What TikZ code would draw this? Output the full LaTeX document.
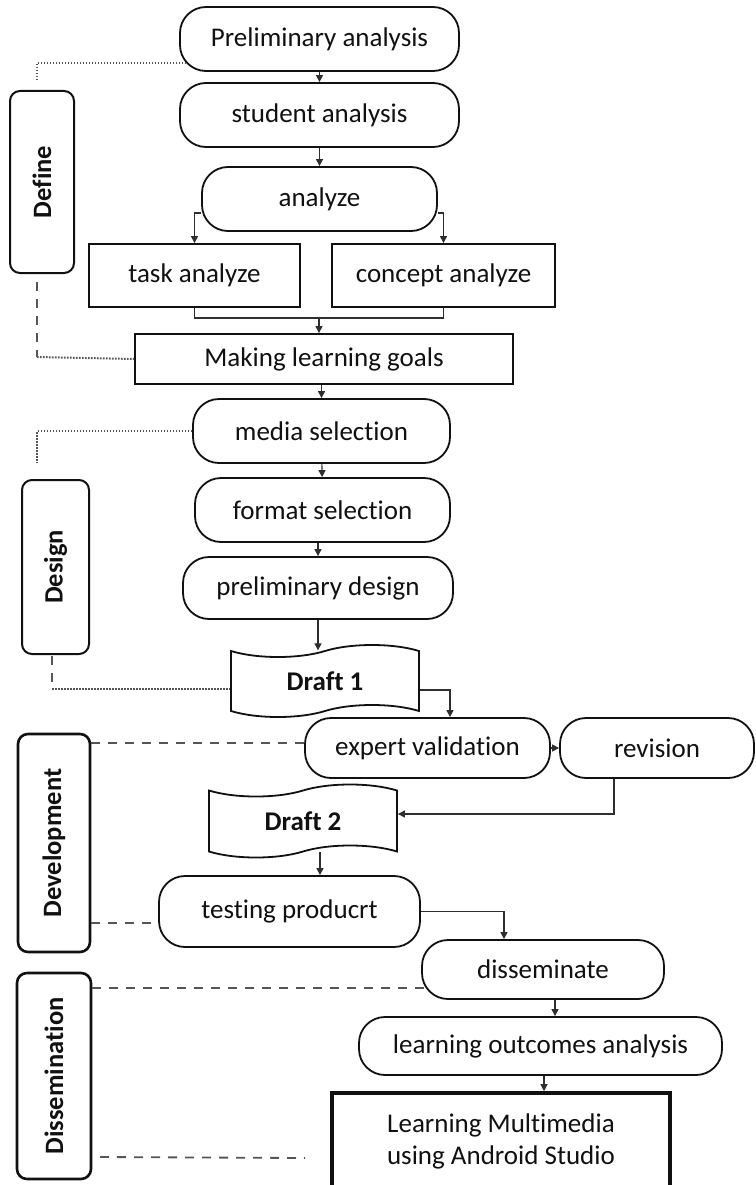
\documentclass[tikz,border=0pt]{standalone}
\usepackage{fontspec}
\setmainfont{Carlito}[Ligatures=NoCommon]
\usepackage{graphicx}
\usepackage{tikz}
\usetikzlibrary{arrows.meta, positioning, calc, shapes.symbols}
\definecolor{ink}{HTML}{111111}
\definecolor{wire}{HTML}{2E2E2E}
\definecolor{guide}{HTML}{555555}
\tikzset{
  font=\fontsize{27}{32}\selectfont,
  >={Triangle[length=7pt, width=7pt]},
  %
  stepbox/.style={
    draw=ink, line width=1.8pt, rounded corners=26pt, fill=white,
    inner sep=0pt, align=center, text=ink,
  },
  taskbox/.style={draw=ink, line width=1.8pt, fill=white, inner sep=0pt,
                  align=center, text=ink},
  finalbox/.style={taskbox, line width=3.6pt},
  draftbox/.style={tape, draw=ink, line width=1.8pt, fill=white,
                   tape bend height=12pt, inner sep=0pt, text=ink,
                   font=\fontsize{27}{32}\selectfont\bfseries},
  phasebox/.style={draw=ink, line width=2pt, rounded corners=10pt,
                   inner sep=0pt, text=ink,
                   font=\fontsize{26.5}{30}\selectfont\bfseries},
  %
  flow/.style={draw=wire, line width=1.1pt, ->},
  flowjoin/.style={draw=wire, line width=1.1pt},
  linkdot/.style={draw=guide, line width=2pt, dash pattern=on 1.6pt off 1.4pt},
  linkdash/.style={draw=guide, line width=1.8pt, dash pattern=on 9pt off 8pt},
}

\begin{document}
\begin{tikzpicture}[x=1pt, y=-1pt]

  \useasboundingbox (0,0) rectangle (755,1185);

  % phase boxes
  \node[phasebox, minimum width=64pt, minimum height=182pt] (define) at (42,182)
    {\rotatebox{90}{Define}};
  \node[phasebox, minimum width=67pt, minimum height=174pt] (design) at (55.5,567)
    {\rotatebox{90}{Design}};
  \node[phasebox, line width=2.6pt, minimum width=72pt, minimum height=218pt]
    (develop) at (54,843) {\rotatebox{90}{Development}};
  \node[phasebox, line width=2.6pt, minimum width=74pt, minimum height=206pt]
    (dissem) at (54,1076) {\rotatebox{90}{Dissemination}};

  % define steps
  \node[stepbox, minimum width=279pt, minimum height=64pt] (prelim) at (319.5,39)
    {Preliminary analysis};
  \node[stepbox, minimum width=279pt, minimum height=64pt] (student) at (319.5,115)
    {student analysis};
  \node[stepbox, minimum width=235pt, minimum height=64pt] (analyze) at (319.5,199)
    {analyze};
  \node[taskbox, minimum width=211pt, minimum height=63pt] (task) at (194.5,275.5)
    {task analyze};
  \node[taskbox, minimum width=223pt, minimum height=63pt] (concept) at (443.5,275.5)
    {concept analyze};
  \node[taskbox, minimum width=378pt, minimum height=50pt] (goals) at (324,359)
    {Making learning goals};

  % design steps
  \node[stepbox, minimum width=257pt, minimum height=64pt] (media) at (321.5,431)
    {media selection};
  \node[stepbox, minimum width=255pt, minimum height=64pt] (format) at (322.5,510)
    {format selection};
  \node[stepbox, minimum width=270pt, minimum height=62pt] (prodesign) at (318,588)
    {preliminary design};
  \node[draftbox, minimum width=188pt, minimum height=72pt] (draft1) at (325,681)
    {Draft 1};

  % development steps
  \node[stepbox, minimum width=245pt, minimum height=60pt] (expert) at (427.5,748)
    {expert validation};
  \node[stepbox, minimum width=194pt, minimum height=60pt] (revision) at (657,748)
    {revision};
  \node[draftbox, minimum width=188pt, minimum height=73pt] (draft2) at (303,821)
    {Draft 2};
  \node[stepbox, minimum width=261pt, minimum height=71pt] (testing) at (289.5,911.5)
    {testing producrt};

  % dissemination steps
  \node[stepbox, minimum width=242pt, minimum height=59pt] (spread) at (543,969.5)
    {disseminate};
  \node[stepbox, minimum width=363pt, minimum height=58pt] (outcomes) at (540.5,1046)
    {learning outcomes analysis};
  \node[finalbox, minimum width=338pt, minimum height=97pt] (android) at (501,1141.5)
    {Learning Multimedia\\using Android Studio};

  % main flow
  \draw[flow] (prelim) -- (student);
  \draw[flow] (student) -- (analyze);
  \draw[flow] ([yshift=-14pt]analyze.west) -| (task.north);
  \draw[flow] ([yshift=-14pt]analyze.east) -| (concept.north);
  \coordinate (merge) at (319,318);
  \draw[flowjoin] (task.south) |- (merge) -| (concept.south);
  \draw[flow] (merge) -- (merge |- goals.north);
  \draw[flow] (media.north |- goals.south) -- (media.north);
  \draw[flow] (media) -- (format);
  \draw[flow] (prodesign.north |- format.south) -- (prodesign.north);
  \draw[flow] (prodesign.south) -- (prodesign.south |- draft1.north);
  \draw[flow] ([yshift=-9pt]draft1.east) -| ([xshift=22.5pt]expert.north);
  \draw[flow] (expert) -- (revision);
  \draw[flow] ([xshift=-43pt]revision.south) |- ([yshift=7pt]draft2.east);
  \draw[flow] ([xshift=17pt]draft2.south) -- ([xshift=17pt]draft2.south |- testing.north);
  \draw[flow] (testing.east) -| ([xshift=-39pt]spread.north);
  \draw[flow] ([xshift=12pt]spread.south) -- ([xshift=12pt]spread.south |- outcomes.north);
  \draw[flow] ([xshift=3.5pt]outcomes.south) -- ([xshift=3.5pt]outcomes.south |- android.north);

  % phase guides
  \coordinate (defTop) at (37,80);
  \coordinate (defBot) at (37,282);
  \coordinate (defTurn) at (37,357);
  \coordinate (desTop) at (37,463);
  \coordinate (desBot) at (52,656);
  \coordinate (desTurn) at (52,689);
  \coordinate (disFoot) at (100,1157);
  \coordinate (disEnd) at (305,1158);

  \draw[linkdot] ([xshift=7pt, yshift=-24pt]prelim.west) -| (defTop);
  \draw[linkdash] (defBot) -- (defTurn);
  \draw[linkdot] (defTurn) -- (goals.west);
  \draw[linkdot] (media.west) -| (desTop);
  \draw[linkdash] (desBot) -- (desTurn);
  \draw[linkdot] (desTurn) -- (desTurn -| draft1.west);
  \draw[linkdash] ([yshift=100pt]develop.east) -- ([yshift=5pt]expert.west);
  \draw[linkdash] ([yshift=-80pt]develop.east) -- ([xshift=-6pt, yshift=-11.5pt]testing.west);
  \draw[linkdash] ([yshift=88pt]dissem.east) -- ([xshift=3pt, yshift=-18.5pt]spread.west);
  \draw[linkdash] (disFoot) -- (disEnd);

\end{tikzpicture}
\end{document}
